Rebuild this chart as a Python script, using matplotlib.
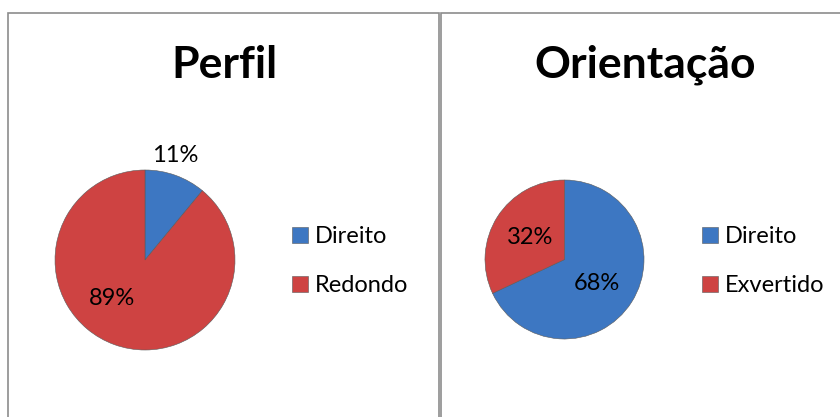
import matplotlib
matplotlib.use("Agg")
import numpy as np
import matplotlib.pyplot as plt
from matplotlib.patches import Rectangle

plt.rcParams["font.family"] = ["Lato", "DejaVu Sans"]

# ---- data ----------------------------------------------------------------
perfil_labels = ["Direito", "Redondo"]
perfil_values = [11, 89]

orient_labels = ["Direito", "Exvertido"]
orient_values = [68, 32]

BLUE = "#3D77C2"
RED = "#CE4342"
W, H = 840, 417


def fig_box(x0, y0, x1, y1):
    """pixel box (top-left origin) -> figure fraction [l, b, w, h]"""
    return [x0 / W, 1 - y1 / H, (x1 - x0) / W, (y1 - y0) / H]


fig = plt.figure(figsize=(W / 100, H / 100), dpi=100)
fig.patch.set_facecolor("white")

# panel frames
for x0, x1 in [(8, 439), (441, 860)]:
    fig.patches.append(Rectangle((x0 / W, -0.1), (x1 - x0) / W, 1.1 - 13 / H,
                                 transform=fig.transFigure, fill=False,
                                 edgecolor="#8c8c8c", linewidth=1.2))


def draw_pie(box, values, labels, title, title_x, legend_xy, label_pos):
    ax = fig.add_axes(fig_box(*box))
    wedges, _ = ax.pie(values, colors=[BLUE, RED], startangle=90,
                       counterclock=False, radius=1,
                       wedgeprops=dict(edgecolor="#5a5a5a", linewidth=0.4))
    ax.set_xlim(-1, 1)
    ax.set_ylim(-1, 1)
    ax.axis("off")
    for v, (ang, dist) in zip(values, label_pos):
        a = np.deg2rad(ang)
        ax.text(dist * np.cos(a), dist * np.sin(a), f"{v}%",
                ha="center", va="center", fontsize=17, color="black")
    fig.text(title_x / W, 1 - 65 / H, title, ha="center", va="center",
             fontsize=32, fontweight="bold")
    fig.legend(wedges, labels, loc="center left",
               bbox_to_anchor=(legend_xy[0] / W, 1 - legend_xy[1] / H),
               bbox_transform=fig.transFigure, frameon=False,
               fontsize=17, handlelength=0.66, handleheight=0.66,
               handletextpad=0.3, labelspacing=1.2, borderpad=0,
               borderaxespad=0)


draw_pie((55, 170, 235, 350), perfil_values, perfil_labels, "Perfil", 224,
         (292, 261), [(74, 1.21), (-131, 0.56)])
draw_pie((485, 180, 644, 339), orient_values, orient_labels, "Orientação", 645,
         (702, 261), [(-36, 0.51), (147.5, 0.51)])

fig.savefig("out.png", dpi=100)
